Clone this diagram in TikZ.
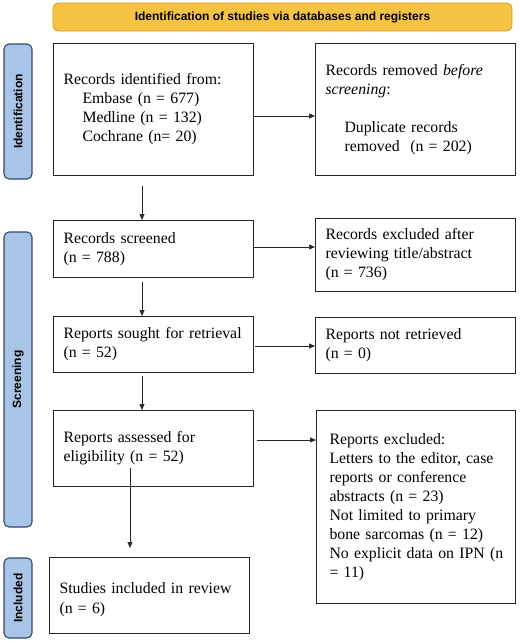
\documentclass[tikz,border=0pt]{standalone}
\usepackage{fontspec}
\setmainfont{Liberation Serif}
\newfontfamily\labfont{Liberation Sans}
\usetikzlibrary{arrows.meta}
\definecolor{bannerfill}{HTML}{F5C242}
\definecolor{bannerdraw}{HTML}{D49A2A}
\definecolor{sidefill}{HTML}{A8C4E6}
\definecolor{sidedraw}{HTML}{2F4A6B}
\newcommand{\myln}[1]{\mbox{#1}}
\begin{document}
\begin{tikzpicture}[x=1pt,y=1pt,
  box/.style={draw=black!85, line width=1pt, rectangle, inner xsep=10pt, inner ysep=0pt,
    text width=180pt, align=left, font=\fontsize{15.8}{19}\selectfont, anchor=north west},
  side/.style={draw=sidedraw, fill=sidefill, line width=1.1pt, rounded corners=5pt,
    rotate=90, minimum height=28pt, inner sep=0pt, font=\labfont\bfseries\fontsize{12}{14}\selectfont},
  banner/.style={draw=bannerdraw, fill=bannerfill, line width=0.8pt, rounded corners=5pt,
    minimum width=459pt, minimum height=28pt, inner sep=0pt, font=\labfont\bfseries\fontsize{12}{14}\selectfont},
  arr/.style={draw=black!85, line width=0.7pt, -{Triangle[length=6pt,width=5pt]}}
]
\useasboundingbox (0,0) rectangle (520,-643);

\node[banner] (ban) at (282.5,-17) {Identification of studies via databases and registers};

\node[side, minimum width=135pt] (sid1) at (18,-111.5) {Identification};
\node[side, minimum width=295pt] (sid2) at (18,-379.5) {Screening};
\node[side, minimum width=80pt] (sid3) at (18,-598) {Included};

\node[box, minimum height=132pt] (b1) at (53,-43) {\myln{Records identified from:}\\
\hspace*{19pt}\myln{Embase (n = 677)}\\
\hspace*{19pt}\myln{Medline (n = 132)}\\
\hspace*{19pt}\myln{Cochrane (n= 20)}};

\node[box, minimum height=132pt] (b2) at (315,-43) {\myln{Records removed \textit{before}}\\
\textit{screening}:\\[19pt]
\hspace*{19pt}\myln{Duplicate records}\\
\hspace*{19pt}\myln{removed\ \ (n = 202)}};

\node[box, minimum height=57pt] (b3) at (53,-220) {\myln{Records screened}\\\myln{(n = 788)}};
\node[box, minimum height=73pt] (b4) at (315,-218) {\myln{Records excluded after}\\\myln{reviewing title/abstract}\\\myln{(n = 736)}};

\node[box, minimum height=56pt] (b5) at (53,-316) {\myln{Reports sought for retrieval}\\\myln{(n = 52)}};
\node[box, minimum height=56pt] (b6) at (315,-317) {\myln{Reports not retrieved}\\\myln{(n = 0)}};

\node[box, minimum height=76pt] (b7) at (53,-410) {\myln{Reports assessed for}\\\myln{eligibility (n = 52)}};
\node[box, minimum height=193pt, inner xsep=13pt, text width=173pt] (b8) at (316,-410) {\myln{Reports excluded:}\\
\myln{Letters to the editor, case}\\
\myln{reports or conference}\\
\myln{abstracts (n = 23)}\\
\myln{Not limited to primary}\\
\myln{bone sarcomas (n = 12)}\\
\myln{No explicit data on IPN (n}\\
\myln{= 11)}};

\node[box, minimum height=76pt] (b9) at (49,-557) {\rule{0pt}{20pt}\myln{Studies included in review}\\[1pt]\myln{(n = 6)}};

% horizontal connectors
\coordinate (h1) at (254,-116);
\draw[arr] (h1) -- (h1 -| b2.west);
\coordinate (h2) at (254,-247);
\draw[arr] (h2) -- (h2 -| b4.west);
\coordinate (h3) at (255,-346);
\draw[arr] (h3) -- (h3 -| b6.west);
\coordinate (h4) at (257,-440);
\draw[arr] (h4) -- (h4 -| b8.west);

% vertical connectors
\coordinate (v1) at (142,-186);
\draw[arr] (v1) -- (v1 |- b3.north);
\coordinate (v2) at (142,-282);
\draw[arr] (v2) -- (v2 |- b5.north);
\coordinate (v3) at (142,-376);
\draw[arr] (v3) -- (v3 |- b7.north);
\coordinate (v4) at (130,-468);
\coordinate (v4e) at (130,-548);
\draw[arr] (v4) -- (v4e);
\end{tikzpicture}
\end{document}
